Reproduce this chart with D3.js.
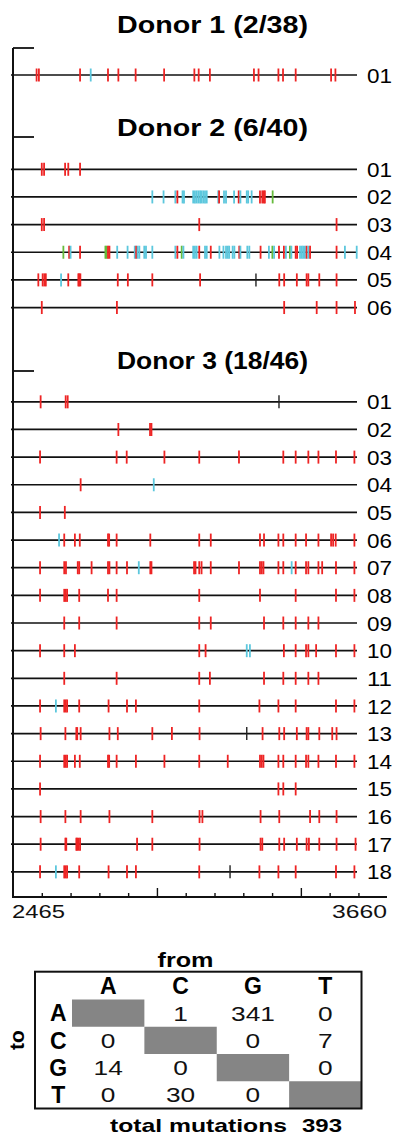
<!DOCTYPE html>
<html>
<head>
<meta charset="utf-8">
<script src="https://cdn.jsdelivr.net/npm/d3@7"></script>
<style>
  body { margin: 0; background: #fff; }
  svg { display: block; font-family: "Liberation Sans", Arial, sans-serif; }
</style>
</head>
<body>
<div id="chart"></div>
<script>
// positions (bp) of mutations per clone, letter = kind
// r = G>A (red), c = cyan, g = green, k = black
const donorTitles = ['Donor 1 (2/38)', 'Donor 2 (6/40)', 'Donor 3 (18/46)'];

const donor1Rows = [
  '2547r 2555r 2698r 2735c 2795r 2831r 2891r 2990r 3095r 3110r 3149r 3302r 3318r 3387r 3403r 3447r 3570r 3585r'
];

const donor2Rows = [
  '2565r 2573r 2646r 2657r 2698r',
  '2949c 2988c 3029c 3036r 3054c 3059c 3091c 3097c 3103c 3109c 3115c 3120c 3126c 3132c 3138c 3178c 3181r 3198c 3205c 3233c 3249r 3255c 3277c 3282c 3294c 3323r 3331r 3336r 3340r 3367g',
  '2565r 2573r 3112r 3589r',
  '2640g 2660r 2665c 2698r 2786g 2790g 2795r 2800r 2827c 2863c 2888c 2893r 2898c 2904c 2921c 2927c 2949c 3029c 3036r 3051g 3057c 3091c 3097c 3103c 3112r 3132c 3138c 3152r 3182c 3196c 3205c 3211c 3216c 3228c 3234c 3251r 3255c 3279c 3286c 3325r 3354c 3366g 3372c 3389r 3406r 3413c 3427g 3432c 3447r 3452r 3462c 3468c 3473c 3479c 3485r 3491c 3497r 3589r 3618c 3659c',
  '2553r 2568r 2574r 2579r 2632c 2657r 2692r 2695r 2699r 2829r 2864r 2949r 3115r 3309k 3390r 3407r 3451r 3485r 3491r 3529r 3589r',
  '2565r 2826r 3407r 3520r 3589r 3653r'
];

const donor3Rows = [
  '2561r 2648r 2655r 3389k',
  '2831r 2941r 2946r',
  '2559r 2825r 2860r 2991r 3112r 3250r 3404r 3447r 3491r 3526r 3587r 3651r',
  '2700r 2954c',
  '2559r 2645r',
  '2625c 2643r 2680r 2697r 2795r 2799r 2825r 2942r 3112r 3152r 3323r 3337r 3387r 3404r 3447r 3483r 3526r 3570r 3577r 3586r 3651r',
  '2559r 2643r 2649r 2690r 2695r 2738r 2795r 2800r 2825r 2861r 2902c 2942r 2946r 3094r 3099r 3112r 3120r 3152r 3250r 3323r 3329r 3335r 3387r 3404r 3433c 3447r 3483r 3491r 3526r 3539r 3587r 3651r',
  '2559r 2643r 2648r 2653r 2695r 2795r 2825r 3112r 3323r 3447r 3587r 3651r',
  '2643r 2695r 2825r 3112r 3152r 3337r 3404r 3447r 3491r 3526r',
  '2559r 2643r 2680r 3112r 3134r 3277c 3288c 3406r 3447r 3483r 3491r 3518r 3587r 3651r',
  '2643r 2825r 3112r 3149r 3337r 3404r 3447r 3491r 3526r',
  '2559r 2614c 2643r 2648r 2653r 2695r 2797r 2861r 2892r 3112r 3321r 3387r 3447r 3587r 3651r',
  '2561r 2647r 2685r 2688r 2700r 2800r 2829r 2949r 3017r 3113r 3277k 3332r 3390r 3407r 3451r 3485r 3491r 3529r 3574r 3589r',
  '2559r 2643r 2648r 2653r 2680r 2697r 2795r 2799r 2825r 2892r 2991r 3112r 3211r 3323r 3329r 3335r 3387r 3404r 3447r 3483r 3491r 3526r 3587r 3651r',
  '2559r 3387r 3404r 3447r',
  '2561r 2647r 2700r 2800r 2949r 3113r 3123r 3325r 3390r 3497r 3529r 3589r',
  '2561r 2647r 2650r 2685r 2688r 2693r 2698r 2896r 2949r 3113r 3325r 3331r 3390r 3407r 3451r 3485r 3493r 3529r 3589r 3655r',
  '2559r 2614c 2643r 2648r 2653r 2695r 2797r 2861r 2892r 3112r 3219k 3321r 3387r 3447r 3587r 3651r'
];

const seqStart = 2465;
const seqEnd = 3660;
const axisTicks = d3.range(2565, 3700, 100);
const majorTicks = [2965, 3465];

const bases = ['A', 'C', 'G', 'T'];
// rows = "to", columns = "from"
const counts = [
  [null, 1, 341, 0],
  [0, null, 0, 7],
  [14, 0, null, 0],
  [0, 30, 0, null]
];
const totalMutations = 393;

const kindColor = { r: '#ee2424', c: '#5cc7dd', g: '#66bb3c', k: '#222' };

const W = 393, H = 1135;
const svg = d3.select('#chart').append('svg')
  .attr('width', W)
  .attr('height', H);

const x = d3.scaleLinear().domain([seqStart, seqEnd]).range([13, 357]);
const slot = d3.scaleLinear().domain([0, 1]).range([75, 102.65]);
const groupGap = 2.41;

function stretch(sel, w) {
  sel.attr('textLength', w).attr('lengthAdjust', 'spacingAndGlyphs');
}

const donors = [donor1Rows, donor2Rows, donor3Rows];
const titleY = [33, 136, 369];
const bracketY = [48, 137, 371];

const plot = svg.append('g');

// left axis
plot.append('line')
  .attr('x1', 13).attr('x2', 13)
  .attr('y1', bracketY[0]).attr('y2', 898)
  .attr('stroke', '#111').attr('stroke-width', 2);

let idx = 0;
donors.forEach((rows, gi) => {
  plot.append('text')
    .attr('x', 117).attr('y', titleY[gi])
    .attr('font-size', 24).attr('font-weight', 'bold')
    .text(donorTitles[gi])
    .call(stretch, 191);

  plot.append('line')
    .attr('x1', 13).attr('x2', 34)
    .attr('y1', bracketY[gi]).attr('y2', bracketY[gi])
    .attr('stroke', '#111').attr('stroke-width', 1.8);

  rows.forEach((row, ri) => {
    const y = slot(idx + gi * groupGap);
    idx++;
    const muts = row.split(' ').map(s => ({ pos: +s.slice(0, -1), kind: s.slice(-1) }));
    const g = plot.append('g').attr('transform', 'translate(0,' + y + ')');

    g.append('line')
      .attr('x1', x(seqStart) - 2).attr('x2', x(seqEnd))
      .attr('stroke', '#111').attr('stroke-width', 1.7);

    g.selectAll('line.mut')
      .data(muts)
      .enter().append('line')
      .attr('class', 'mut')
      .attr('x1', d => x(d.pos)).attr('x2', d => x(d.pos))
      .attr('y1', -6.5).attr('y2', 6.5)
      .attr('stroke', d => kindColor[d.kind])
      .attr('stroke-width', d => d.kind === 'k' ? 1.4 : 1.8);

    g.append('text')
      .attr('x', 367).attr('y', 0).attr('dy', '0.36em')
      .attr('font-size', 21)
      .text(String(ri + 1).padStart(2, '0'))
      .call(stretch, 25);
  });
});

// bottom axis
const axisY = 897;
const axisG = plot.append('g').attr('transform', 'translate(0,' + axisY + ')');
axisG.call(d3.axisTop(x).tickValues(axisTicks).tickSize(4).tickFormat(''));
axisG.select('.domain').remove();
axisG.selectAll('.tick line')
  .attr('y2', d => majorTicks.includes(d) ? -9 : -4)
  .attr('stroke', '#111').attr('stroke-width', 1.4);

const axisLabels = plot.append('g')
  .attr('transform', 'translate(0,' + axisY + ')')
  .attr('font-size', 19).attr('fill', '#111');
axisLabels.append('line')
  .attr('x1', 13).attr('x2', 387)
  .attr('stroke', '#111').attr('stroke-width', 2);
axisLabels.append('text')
  .attr('x', 12).attr('y', 21).attr('text-anchor', 'start')
  .text(seqStart).call(stretch, 53);
axisLabels.append('text')
  .attr('x', 387).attr('y', 21).attr('text-anchor', 'end')
  .text(seqEnd).call(stretch, 55);

// substitution table
const tbl = svg.append('g');
const col = d3.scaleBand().domain(bases).range([72, 361.5]);
const row = d3.scaleBand().domain(bases).range([999.5, 1108.5]);

tbl.append('text')
  .attr('x', 185.5).attr('y', 967).attr('text-anchor', 'middle')
  .attr('font-size', 21).attr('font-weight', 'bold')
  .text('from').call(stretch, 56);

tbl.append('text')
  .attr('transform', 'translate(24,1040) rotate(-90)')
  .attr('text-anchor', 'middle')
  .attr('font-size', 21).attr('font-weight', 'bold')
  .text('to');

tbl.selectAll('rect.diag')
  .data(bases)
  .enter().append('rect')
  .attr('class', 'diag')
  .attr('x', d => col(d)).attr('y', d => row(d))
  .attr('width', col.bandwidth()).attr('height', row.bandwidth())
  .attr('fill', '#858585');

tbl.append('rect')
  .attr('x', 35).attr('y', 971.7)
  .attr('width', 326.5).attr('height', 136.8)
  .attr('fill', 'none').attr('stroke', '#111').attr('stroke-width', 2);

tbl.selectAll('text.colhead')
  .data(bases)
  .enter().append('text')
  .attr('class', 'colhead')
  .attr('x', d => col(d) + col.bandwidth() / 2).attr('y', 994)
  .attr('text-anchor', 'middle')
  .attr('font-size', 23).attr('font-weight', 'bold')
  .text(d => d);

tbl.selectAll('text.rowhead')
  .data(bases)
  .enter().append('text')
  .attr('class', 'rowhead')
  .attr('x', 58.3).attr('y', d => row(d) + row.bandwidth() / 2)
  .attr('dy', '0.36em')
  .attr('text-anchor', 'middle')
  .attr('font-size', 23).attr('font-weight', 'bold')
  .text(d => d);

const cells = [];
counts.forEach((r, ri) => r.forEach((v, ci) => {
  if (v !== null) cells.push({ to: bases[ri], from: bases[ci], v: v });
}));

tbl.selectAll('text.cell')
  .data(cells)
  .enter().append('text')
  .attr('class', 'cell')
  .attr('x', d => col(d.from) + col.bandwidth() / 2)
  .attr('y', d => row(d.to) + row.bandwidth() / 2)
  .attr('dy', '0.36em')
  .attr('text-anchor', 'middle')
  .attr('font-size', 21).attr('fill', '#111')
  .text(d => d.v)
  .each(function() {
    const len = this.getComputedTextLength();
    d3.select(this).call(stretch, len * 1.25);
  });

tbl.append('text')
  .attr('x', 110).attr('y', 1132)
  .attr('font-size', 19).attr('font-weight', 'bold')
  .text('total mutations').call(stretch, 177);
tbl.append('text')
  .attr('x', 302).attr('y', 1132)
  .attr('font-size', 19).attr('font-weight', 'bold')
  .text(totalMutations).call(stretch, 40);
</script>
</body>
</html>
